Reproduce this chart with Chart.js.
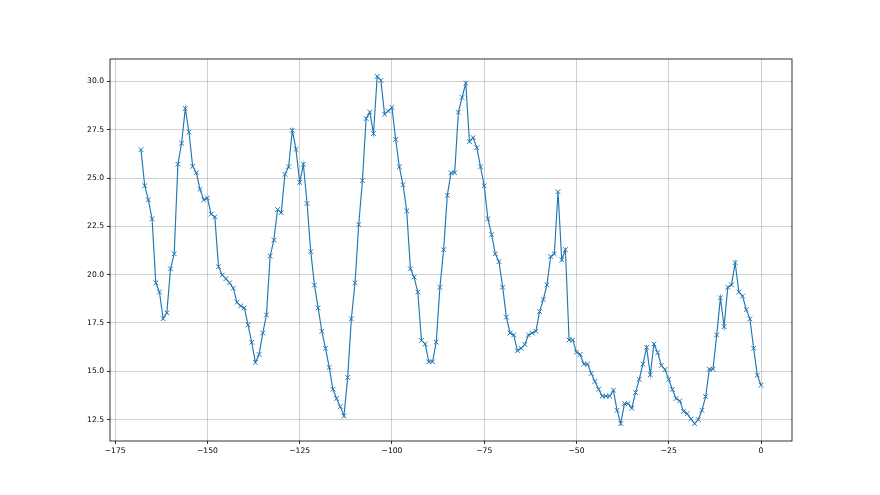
<!DOCTYPE html>
<html>
<head>
<meta charset="utf-8">
<script src="https://cdn.jsdelivr.net/npm/chart.js@4/dist/chart.umd.min.js"></script>
<style>
  html, body { margin: 0; padding: 0; background: #ffffff; }
  #wrap { width: 880px; height: 495px; }
</style>
</head>
<body>
<div id="wrap"><canvas id="c" width="880" height="495"></canvas></div>
<script>
const xValues = [
  -168,-167,-166,-165,-164,-163,-162,-161,-160,-159,-158,-157,-156,-155,-154,-153,-152,-151,-150,-149,
  -148,-147,-146,-145,-144,-143,-142,-141,-140,-139,-138,-137,-136,-135,-134,-133,-132,-131,-130,-129,
  -128,-127,-126,-125,-124,-123,-122,-121,-120,-119,-118,-117,-116,-115,-114,-113,-112,-111,-110,-109,
  -108,-107,-106,-105,-104,-103,-102,-101,-100,-99,-98,-97,-96,-95,-94,-93,-92,-91,-90,-89,
  -88,-87,-86,-85,-84,-83,-82,-81,-80,-79,-78,-77,-76,-75,-74,-73,-72,-71,-70,-69,
  -68,-67,-66,-65,-64,-63,-62,-61,-60,-59,-58,-57,-56,-55,-54,-53,-52,-51,-50,-49,
  -48,-47,-46,-45,-44,-43,-42,-41,-40,-39,-38,-37,-36,-35,-34,-33,-32,-31,-30,-29,
  -28,-27,-26,-25,-24,-23,-22,-21,-20,-19,-18,-17,-16,-15,-14,-13,-12,-11,-10,-9,
  -8,-7,-6,-5,-4,-3,-2,-1,0
];
const yValues = [
  26.47,24.60,23.87,22.89,19.58,19.10,17.72,18.02,20.30,21.08,25.71,26.80,28.60,27.37,25.60,25.27,24.41,23.87,23.97,23.13,
  22.99,20.41,19.98,19.79,19.58,19.30,18.57,18.38,18.28,17.40,16.50,15.46,15.87,16.98,17.92,20.96,21.79,23.37,23.21,25.19,
  25.58,27.47,26.48,24.77,25.71,23.68,21.19,19.46,18.28,17.07,16.19,15.20,14.07,13.59,13.17,12.69,14.68,17.71,19.58,22.59,
  24.86,28.08,28.41,27.30,30.26,30.05,28.30,28.47,28.65,27.00,25.58,24.65,23.30,20.30,19.87,19.10,16.60,16.41,15.49,15.49,
  16.51,19.35,21.29,24.10,25.27,25.27,28.41,29.17,29.91,26.88,27.09,26.57,25.58,24.60,22.89,22.07,21.08,20.67,19.35,17.80,
  16.98,16.88,16.06,16.19,16.39,16.88,16.98,17.07,18.09,18.71,19.47,20.94,21.07,24.29,20.77,21.29,16.62,16.62,15.98,15.87,
  15.37,15.37,14.89,14.47,14.07,13.71,13.71,13.71,14.02,12.98,12.29,13.33,13.33,13.09,13.90,14.58,15.37,16.24,14.82,16.41,
  15.96,15.30,15.09,14.58,14.06,13.59,13.47,12.92,12.81,12.53,12.29,12.50,12.98,13.69,15.11,15.11,16.88,18.80,17.31,19.35,
  19.47,20.62,19.10,18.89,18.19,17.71,16.19,14.80,14.28
];
const xTicks = [-175, -150, -125, -100, -75, -50, -25, 0];
const yTicks = [12.5, 15.0, 17.5, 20.0, 22.5, 25.0, 27.5, 30.0];

const points = xValues.map((x, i) => ({ x: x, y: yValues[i] }));

// matplotlib-like 5% margins
const xMinD = Math.min(...xValues), xMaxD = Math.max(...xValues);
const yMinD = Math.min(...yValues), yMaxD = Math.max(...yValues);
const xPad = (xMaxD - xMinD) * 0.05, yPad = (yMaxD - yMinD) * 0.05;

const frame = {
  id: 'frame',
  afterDraw(chart) {
    const a = chart.chartArea, ctx = chart.ctx;
    ctx.save();
    ctx.strokeStyle = '#000';
    ctx.lineWidth = 0.8;
    ctx.strokeRect(a.left, a.top, a.right - a.left, a.bottom - a.top);
    ctx.restore();
  }
};

const fmtMinus = (s) => String(s).replace('-', '\u2212');

new Chart(document.getElementById('c'), {
  type: 'line',
  data: {
    datasets: [{
      data: points,
      borderColor: '#1f77b4',
      backgroundColor: '#1f77b4',
      borderWidth: 1.15,
      tension: 0,
      pointStyle: 'crossRot',
      pointRadius: 3.3,
      pointBorderWidth: 1,
      pointBorderColor: '#1f77b4',
      pointHoverRadius: 3.3,
      fill: false
    }]
  },
  options: {
    responsive: false,
    animation: false,
    events: [],
    layout: { padding: { left: 0, top: 59, right: 88, bottom: 0 } },
    plugins: { legend: { display: false }, tooltip: { enabled: false } },
    scales: {
      x: {
        type: 'linear',
        min: xMinD - xPad,
        max: xMaxD + xPad,
        afterBuildTicks: (s) => { s.ticks = xTicks.map(v => ({ value: v })); },
        afterFit: (s) => { s.height = 54; },
        border: { display: false },
        grid: { color: '#b0b0b0', lineWidth: 0.6, drawTicks: true, tickLength: 3, tickColor: '#000', tickWidth: 0.8 },
        ticks: {
          autoSkip: false, maxRotation: 0, padding: 2, color: '#000',
          font: { family: 'DejaVu Sans', size: 7.6 },
          callback: (v) => fmtMinus(v)
        }
      },
      y: {
        type: 'linear',
        min: yMinD - yPad,
        max: yMaxD + yPad,
        afterBuildTicks: (s) => { s.ticks = yTicks.map(v => ({ value: v })); },
        afterFit: (s) => { s.width = 110; },
        border: { display: false },
        grid: { color: '#b0b0b0', lineWidth: 0.6, drawTicks: true, tickLength: 3, tickColor: '#000', tickWidth: 0.8 },
        ticks: {
          autoSkip: false, padding: 3, color: '#000',
          font: { family: 'DejaVu Sans', size: 7.6 },
          callback: (v) => Number(v).toFixed(1)
        }
      }
    }
  },
  plugins: [frame]
});
</script>
</body>
</html>
